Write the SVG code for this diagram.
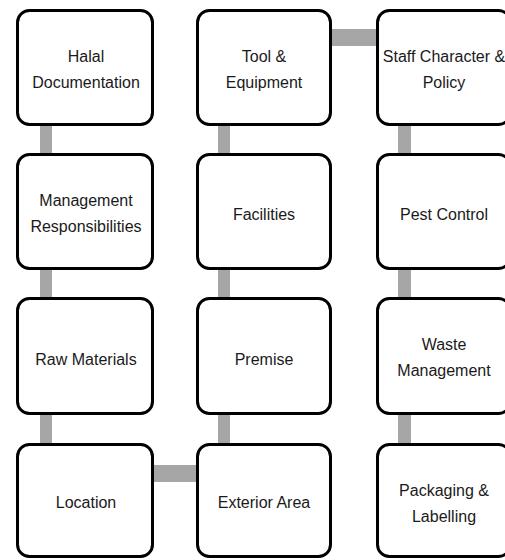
<svg xmlns="http://www.w3.org/2000/svg" width="505" height="560" viewBox="0 0 505 560">
<style>
.box{fill:#fff;stroke:#000;stroke-width:3}
.lbl{font-family:"Liberation Sans",Arial,sans-serif;font-size:16px;fill:#1a1a1a;text-anchor:middle}
.con{fill:#a6a6a6}
</style>
<rect width="505" height="560" fill="#fff"/>
<g id="connectors">
<rect class="con" x="40" y="124" width="12" height="31"/>
<rect class="con" x="40" y="268" width="12" height="31"/>
<rect class="con" x="40" y="413" width="12" height="32"/>
<rect class="con" x="218" y="124" width="12" height="31"/>
<rect class="con" x="218" y="268" width="12" height="31"/>
<rect class="con" x="218" y="413" width="12" height="32"/>
<rect class="con" x="398" y="124" width="13" height="31"/>
<rect class="con" x="398" y="268" width="13" height="31"/>
<rect class="con" x="398" y="413" width="13" height="32"/>
<rect class="con" x="330" y="29" width="48" height="17"/>
<rect class="con" x="152" y="465" width="46" height="17"/>
</g>
<g id="halal-documentation"><rect class="box" x="17.5" y="10.5" width="135" height="114" rx="12"/><text class="lbl" x="86" y="61.5">Halal</text><text class="lbl" x="86" y="87.5">Documentation</text></g>
<g id="tool-equipment"><rect class="box" x="197.5" y="10.5" width="133" height="114" rx="12"/><text class="lbl" x="264" y="61.5">Tool &amp;</text><text class="lbl" x="264" y="87.5">Equipment</text></g>
<g id="staff-character-policy"><rect class="box" x="377.5" y="10.5" width="133" height="114" rx="12"/><text class="lbl" x="444" y="61.5">Staff Character &amp;</text><text class="lbl" x="444" y="87.5">Policy</text></g>
<g id="management-responsibilities"><rect class="box" x="17.5" y="154.5" width="135" height="114" rx="12"/><text class="lbl" x="86" y="205.5">Management</text><text class="lbl" x="86" y="231.5">Responsibilities</text></g>
<g id="facilities"><rect class="box" x="197.5" y="154.5" width="133" height="114" rx="12"/><text class="lbl" x="264" y="220">Facilities</text></g>
<g id="pest-control"><rect class="box" x="377.5" y="154.5" width="133" height="114" rx="12"/><text class="lbl" x="444" y="220">Pest Control</text></g>
<g id="raw-materials"><rect class="box" x="17.5" y="298.5" width="135" height="115" rx="12"/><text class="lbl" x="86" y="364.5">Raw Materials</text></g>
<g id="premise"><rect class="box" x="197.5" y="298.5" width="133" height="115" rx="12"/><text class="lbl" x="264" y="364.5">Premise</text></g>
<g id="waste-management"><rect class="box" x="377.5" y="298.5" width="133" height="115" rx="12"/><text class="lbl" x="444" y="350">Waste</text><text class="lbl" x="444" y="376">Management</text></g>
<g id="location"><rect class="box" x="17.5" y="444.5" width="135" height="112" rx="12"/><text class="lbl" x="86" y="508">Location</text></g>
<g id="exterior-area"><rect class="box" x="197.5" y="444.5" width="133" height="112" rx="12"/><text class="lbl" x="264" y="508">Exterior Area</text></g>
<g id="packaging-labelling"><rect class="box" x="377.5" y="444.5" width="133" height="112" rx="12"/><text class="lbl" x="444" y="496">Packaging &amp;</text><text class="lbl" x="444" y="522">Labelling</text></g>
</svg>
